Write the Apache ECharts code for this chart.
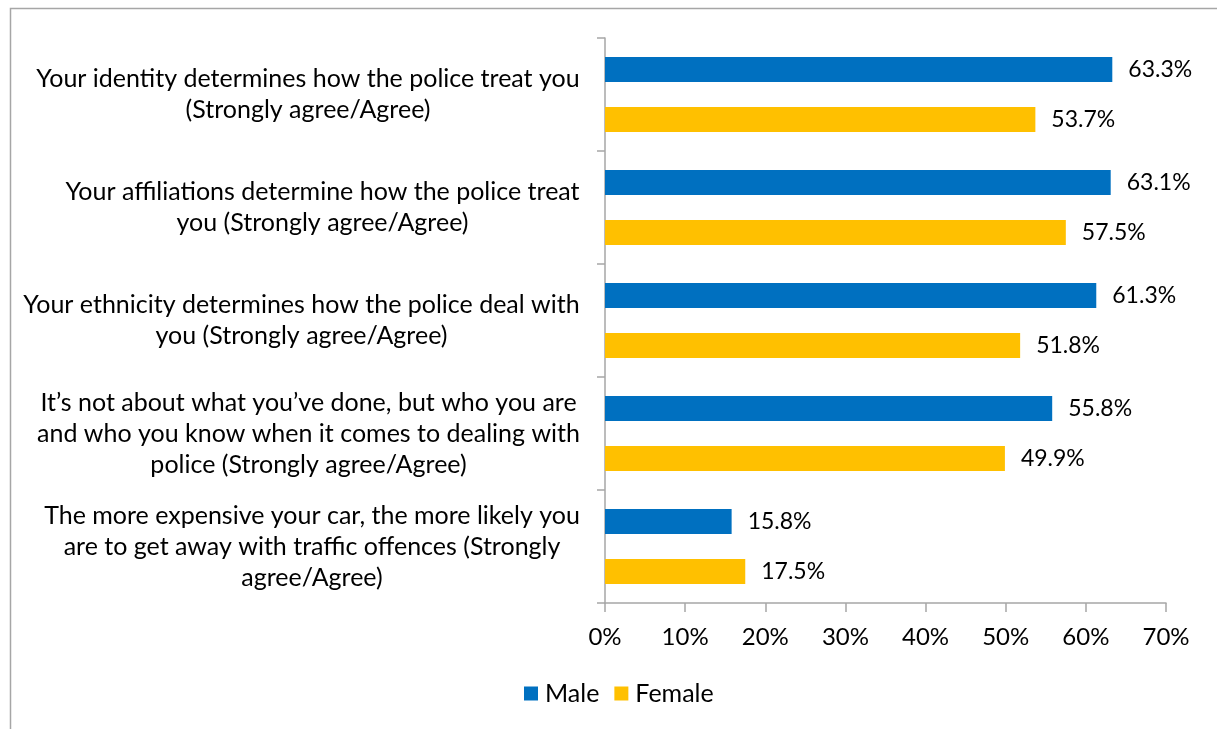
<!DOCTYPE html>
<html>
<head>
<meta charset="utf-8">
<script src="https://cdn.jsdelivr.net/npm/echarts@6/dist/echarts.min.js"></script>
<style>
html,body{margin:0;padding:0;background:#fff;}
#chart{width:1217px;height:729px;}
</style>
</head>
<body>
<div id="chart"></div>
<script>
const categories = [
  "Your identity determines how the police treat you\n(Strongly agree/Agree)",
  "Your affiliations determine how the police treat\nyou (Strongly agree/Agree)",
  "Your ethnicity determines how the police deal with\nyou (Strongly agree/Agree)",
  "It\u2019s not about what you\u2019ve done, but who you are\nand who you know when it comes to dealing with\npolice (Strongly agree/Agree)",
  "The more expensive your car, the more likely you\nare to get away with traffic offences (Strongly\nagree/Agree)"
];
const seriesNames = ["Male", "Female"];
const maleValues = [63.3, 63.1, 61.3, 55.8, 15.8];
const femaleValues = [53.7, 57.5, 51.8, 49.9, 17.5];
const xTicks = [0, 10, 20, 30, 40, 50, 60, 70];

const FONT = "Lato";
const FS = 23;
const CFS = 25;
const ctx = document.createElement('canvas').getContext('2d');
ctx.font = CFS + "px " + FONT;
const rich = {};
categories.forEach((c, i) => {
  const w = Math.max(...c.split('\n').map(l => ctx.measureText(l).width));
  rich['c' + i] = { width: Math.ceil(w), align: 'center', fontSize: CFS, fontFamily: FONT, lineHeight: 31, color: '#000' };
});

const chart = echarts.init(document.getElementById('chart'), null, { renderer: 'canvas' });
chart.setOption({
  backgroundColor: '#fff',
  animation: false,
  textStyle: { fontFamily: FONT },
  graphic: [{
    type: 'rect', silent: true, z: -1,
    shape: { x: 10.5, y: 8.5, width: 1400, height: 900 },
    style: { fill: 'none', stroke: '#a6a6a6', lineWidth: 1.5 }
  }],
  grid: { left: 605, right: 51, top: 38, bottom: 126, containLabel: false },
  legend: {
    data: seriesNames,
    left: 519, top: 676,
    itemWidth: 14, itemHeight: 14, itemGap: 15,
    icon: 'rect',
    textStyle: { fontSize: CFS, fontFamily: FONT, color: '#000', padding: [0, 0, 0, 2] }
  },
  xAxis: {
    type: 'value',
    min: xTicks[0], max: xTicks[xTicks.length - 1], interval: 10,
    axisLine: { show: true, lineStyle: { color: '#a6a6a6', width: 1.5 } },
    axisTick: { show: true, length: 9, lineStyle: { color: '#a6a6a6', width: 1.5 } },
    splitLine: { show: false },
    axisLabel: { formatter: v => v + '%', fontSize: FS + 1, fontFamily: FONT, color: '#000', margin: 22 }
  },
  yAxis: {
    type: 'category',
    inverse: true,
    data: categories,
    axisLine: { show: true, lineStyle: { color: '#a6a6a6', width: 1.5 } },
    axisTick: { show: true, length: 8, lineStyle: { color: '#a6a6a6', width: 1.5 } },
    axisLabel: {
      interval: 0, margin: 25,
      formatter: (v, i) => v.split('\n').map(l => '{c' + i + '|' + l + '}').join('\n'),
      rich: rich
    }
  },
  series: [
    {
      name: seriesNames[0], type: 'bar', data: maleValues,
      barWidth: 25, barGap: '100%',
      itemStyle: { color: '#0070C0' },
      label: { show: true, position: 'right', distance: 16, formatter: p => p.value.toFixed(1) + '%', fontSize: FS, fontFamily: FONT, color: '#000' }
    },
    {
      name: seriesNames[1], type: 'bar', data: femaleValues,
      barWidth: 25, barGap: '100%',
      itemStyle: { color: '#FFC000' },
      label: { show: true, position: 'right', distance: 16, formatter: p => p.value.toFixed(1) + '%', fontSize: FS, fontFamily: FONT, color: '#000' }
    }
  ]
});
</script>
</body>
</html>
